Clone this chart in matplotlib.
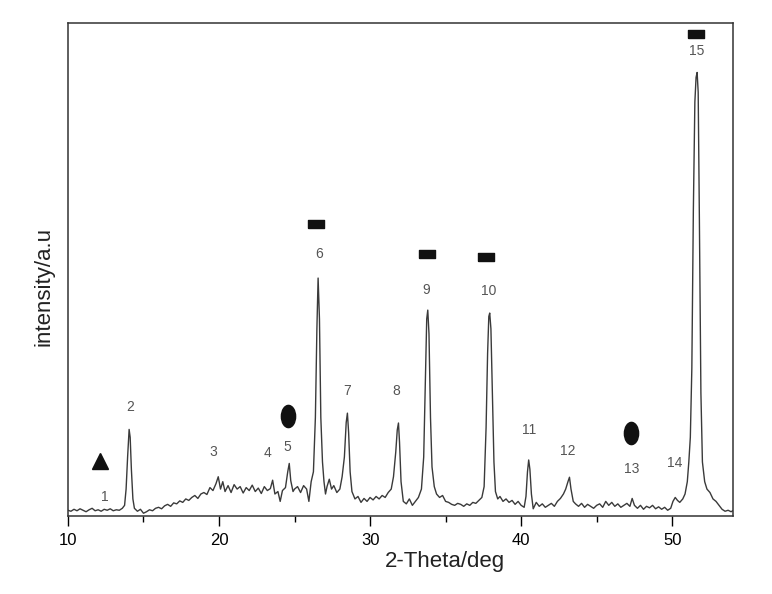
import matplotlib
matplotlib.use('Agg')
import matplotlib.pyplot as plt
from matplotlib.markers import MarkerStyle
from matplotlib.transforms import Affine2D
from matplotlib.ticker import MultipleLocator

plt.rcParams['font.family'] = ['Liberation Sans', 'DejaVu Sans']

# XRD pattern (2-theta in deg, intensity in arbitrary units)
two_theta = [
    10.0, 10.2, 10.4, 10.6, 10.8, 11.0, 11.2, 11.4, 11.6, 11.8, 12.0, 12.2, 12.4, 12.6, 12.8,
    13.0, 13.2, 13.4, 13.6, 13.75, 13.85, 13.95, 14.05, 14.12, 14.2, 14.3, 14.4, 14.6, 14.8,
    15.0, 15.2, 15.4, 15.6, 15.8, 16.0, 16.2, 16.4, 16.6, 16.8, 17.0, 17.2, 17.4, 17.6, 17.8,
    18.0, 18.2, 18.4, 18.6, 18.8, 19.0, 19.2, 19.4, 19.6, 19.8, 19.95, 20.1, 20.25, 20.4, 20.6,
    20.8, 21.0, 21.2, 21.4, 21.6, 21.8, 22.0, 22.2, 22.4, 22.6, 22.8, 23.0, 23.2, 23.4, 23.55,
    23.7, 23.9, 24.05, 24.2, 24.4, 24.55, 24.65, 24.75, 24.9, 25.0, 25.2, 25.4, 25.6, 25.8,
    25.95, 26.1, 26.25, 26.38, 26.48, 26.56, 26.65, 26.74, 26.85, 26.95, 27.05, 27.15, 27.3,
    27.45, 27.6, 27.8, 28.0, 28.15, 28.3, 28.42, 28.5, 28.58, 28.68, 28.8, 29.0, 29.2, 29.4,
    29.6, 29.8, 30.0, 30.2, 30.4, 30.6, 30.8, 31.0, 31.2, 31.4, 31.55, 31.7, 31.8, 31.88, 31.95,
    32.05, 32.2, 32.4, 32.6, 32.8, 33.0, 33.2, 33.4, 33.55, 33.65, 33.75, 33.82, 33.9, 34.0,
    34.1, 34.25, 34.4, 34.6, 34.8, 35.0, 35.2, 35.4, 35.6, 35.8, 36.0, 36.2, 36.4, 36.6, 36.8,
    37.0, 37.2, 37.4, 37.55, 37.68, 37.78, 37.86, 37.92, 38.0, 38.1, 38.2, 38.3, 38.45, 38.6,
    38.8, 39.0, 39.2, 39.4, 39.6, 39.8, 40.0, 40.2, 40.32, 40.42, 40.5, 40.58, 40.68, 40.8,
    41.0, 41.2, 41.4, 41.6, 41.8, 42.0, 42.2, 42.4, 42.6, 42.8, 42.95, 43.1, 43.2, 43.3, 43.45,
    43.6, 43.8, 44.0, 44.2, 44.4, 44.6, 44.8, 45.0, 45.2, 45.4, 45.6, 45.8, 46.0, 46.2, 46.4,
    46.6, 46.8, 47.0, 47.2, 47.35, 47.5, 47.7, 47.9, 48.1, 48.3, 48.5, 48.7, 48.9, 49.1, 49.3,
    49.5, 49.7, 49.9, 50.05, 50.2, 50.35, 50.5, 50.7, 50.85, 51.0, 51.1, 51.2, 51.3, 51.4,
    51.5, 51.58, 51.65, 51.72, 51.8, 51.9, 52.0, 52.15, 52.3, 52.5, 52.7, 52.9, 53.1, 53.3,
    53.5, 53.7, 53.9, 54.0,
]
intensity = [
    12, 10, 14, 11, 15, 12, 9, 13, 16, 11, 13, 10, 14, 12, 15,
    11, 13, 12, 16, 22, 55, 120, 176, 160, 95, 35, 16, 10, 14,
    6, 9, 13, 11, 16, 18, 15, 21, 24, 20, 27, 25, 31, 28, 35,
    32, 38, 42, 36, 45, 48, 44, 58, 52, 66, 80, 55, 70, 50, 62,
    48, 64, 55, 60, 47, 58, 52, 63, 50, 57, 46, 60, 52, 56, 73,
    45, 50, 30, 52, 58, 90, 107, 72, 50, 55, 60, 48, 62, 55,
    30, 70, 90, 200, 380, 483, 400, 200, 110, 70, 45, 60, 75,
    55, 62, 48, 55, 80, 120, 190, 209, 170, 90, 50, 35, 40, 28,
    36, 30, 38, 33, 40, 35, 42, 38, 48, 55, 80, 130, 175, 189, 150,
    70, 30, 25, 35, 22, 30, 38, 55, 120, 260, 400, 418, 370, 200,
    100, 60, 45, 38, 42, 30, 28, 24, 22, 26, 24, 20, 25, 22, 28,
    26, 32, 38, 60, 180, 330, 405, 412, 380, 240, 110, 50, 35, 40,
    30, 35, 28, 32, 24, 30, 22, 18, 40, 90, 114, 95, 45, 15,
    28, 20, 25, 18, 22, 26, 20, 30, 36, 45, 55, 70, 79, 55, 30,
    25, 20, 26, 18, 24, 20, 16, 22, 25, 18, 30, 22, 28, 20, 25,
    18, 22, 26, 20, 36, 22, 16, 22, 14, 20, 17, 22, 15, 19, 14,
    18, 12, 16, 30, 38, 32, 28, 35, 45, 70, 110, 160, 300, 620,
    840, 890, 900, 860, 600, 250, 110, 70, 55, 48, 35, 30, 22, 14,
    10, 12, 9, 11,
]

# peak numbering (label text, 2-theta, label height)
peak_labels = ['1', '2', '3', '4', '5', '6', '7', '8', '9', '10', '11', '12', '13', '14', '15']
peak_x = [12.45, 14.1, 19.65, 23.2, 24.5, 26.6, 28.45, 31.7, 33.7, 37.85, 40.5, 43.1, 47.35, 50.15, 51.6]
peak_y = [38, 221, 130, 128, 140, 531, 254, 254, 458, 456, 174, 132, 95, 108, 943]

# phase symbols
tri_x, tri_y = [12.1], [112]
ell_x, ell_y = [24.55, 47.3], [203, 168]
sq_x, sq_y = [26.4, 33.75, 37.7, 51.6], [592, 531, 525, 978]

fig = plt.figure(figsize=(7.72, 5.94), dpi=100, facecolor='white')
ax = fig.add_axes([0.088, 0.131, 0.861, 0.830])

ax.plot(two_theta, intensity, color='#3a3a3a', linewidth=1.0)

for lab, x, y in zip(peak_labels, peak_x, peak_y):
    ax.text(x, y, lab, ha='center', va='center', fontsize=10, color='#555555')

ax.plot(tri_x, tri_y, linestyle='none', marker='^', markersize=12, color='#111111')
ell = MarkerStyle('o', transform=Affine2D().scale(0.64, 1.0))
ax.plot(ell_x, ell_y, linestyle='none', marker=ell, markersize=16, color='#111111')
rect = [(-1, -0.56), (1, -0.56), (1, 0.56), (-1, 0.56), (-1, -0.56)]
ax.plot(sq_x, sq_y, linestyle='none', marker=rect, markersize=11.5, color='#111111')

ax.set_xlim(10, 54)
ax.set_ylim(0, 1000)
ax.xaxis.set_major_locator(MultipleLocator(10))
ax.xaxis.set_minor_locator(MultipleLocator(5))
ax.tick_params(axis='x', which='major', direction='out', length=7, width=1, labelsize=12, pad=5)
ax.tick_params(axis='x', which='minor', direction='out', length=4, width=1)
ax.set_yticks([])
for spine in ax.spines.values():
    spine.set_color('#333333')
    spine.set_linewidth(1.1)

ax.set_xlabel('2-Theta/deg', fontsize=16, color='#222222')
ax.set_ylabel('intensity/a.u', fontsize=16, color='#222222')
ax.xaxis.set_label_coords(0.567, -0.07)
ax.yaxis.set_label_coords(-0.02, 0.465)

fig.savefig('out.png', dpi=100, facecolor='white')
